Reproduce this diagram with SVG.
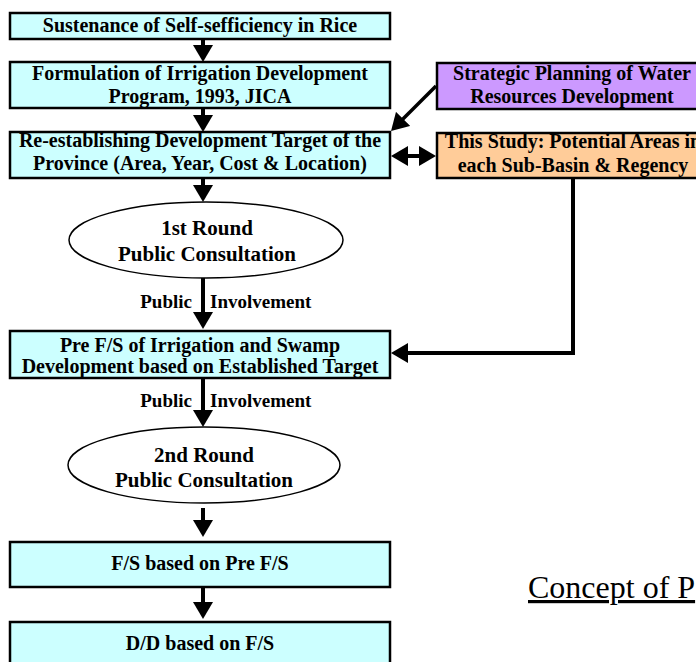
<svg xmlns="http://www.w3.org/2000/svg" width="696" height="662" viewBox="0 0 696 662">
<style>
.box{fill:#CCFFFF;stroke:#000;stroke-width:2.5}
.purple{fill:#CC99FF;stroke:#000;stroke-width:2.5}
.orange{fill:#FFCC99;stroke:#000;stroke-width:2.5}
.ell{fill:#FFFFFF;stroke:#000;stroke-width:1.5}
.t{font-family:"Liberation Serif","Times New Roman",serif;font-weight:bold;font-size:20px;fill:#000;text-anchor:middle}
.te{font-family:"Liberation Serif","Times New Roman",serif;font-weight:bold;font-size:21px;fill:#000;text-anchor:middle}
.lbl{font-family:"Liberation Serif","Times New Roman",serif;font-weight:bold;font-size:19px;fill:#000}
.cap{font-family:"Liberation Serif","Times New Roman",serif;font-size:32px;fill:#000}
.c{fill:none;stroke:#000;stroke-width:4}
</style>
<defs>
<marker id="ah" markerUnits="userSpaceOnUse" markerWidth="18" markerHeight="20" refX="9" refY="10" orient="auto-start-reverse">
<path d="M0,0 L17,10 L0,20 Z" fill="#000"/>
</marker>
</defs>
<rect width="696" height="662" fill="#FFFFFF"/>
<g id="n1"><rect class="box" x="10" y="13" width="380" height="26"/><text class="t" x="200" y="32">Sustenance of Self-sefficiency in Rice</text></g>
<g id="n2"><rect class="box" x="10" y="62" width="380" height="46"/><text class="t" x="200" y="80">Formulation of Irrigation Development</text><text class="t" x="200" y="103">Program, 1993, JICA</text></g>
<g id="n3"><rect class="box" x="10" y="132" width="380" height="46"/><text class="t" x="200" y="147">Re-establishing Development Target of the</text><text class="t" x="200" y="170">Province (Area, Year, Cost &amp; Location)</text></g>
<g id="n4"><rect class="purple" x="437" y="63" width="272" height="46"/><text class="t" x="572" y="80">Strategic Planning of Water</text><text class="t" x="572" y="103">Resources Development</text></g>
<g id="n5"><rect class="orange" x="437" y="133" width="272" height="45"/><text class="t" x="573" y="148">This Study: Potential Areas in</text><text class="t" x="573" y="172">each Sub-Basin &amp; Regency</text></g>
<g id="n6"><ellipse class="ell" cx="206" cy="240" rx="137" ry="38"/><text class="te" x="207" y="235">1st Round</text><text class="te" x="207" y="261">Public Consultation</text></g>
<g id="n7"><rect class="box" x="10" y="331" width="380" height="47"/><text class="t" x="200" y="352">Pre F/S of Irrigation and Swamp</text><text class="t" x="200" y="373">Development based on Established Target</text></g>
<g id="n8"><ellipse class="ell" cx="204" cy="465" rx="136" ry="38"/><text class="te" x="204" y="462">2nd Round</text><text class="te" x="204" y="487">Public Consultation</text></g>
<g id="n9"><rect class="box" x="10" y="542" width="380" height="45"/><text class="t" x="200" y="570">F/S based on Pre F/S</text></g>
<g id="n10"><rect class="box" x="10" y="622" width="380" height="50"/><text class="t" x="200" y="650">D/D based on F/S</text></g>
<g id="connectors">
<line class="c" x1="203" y1="39" x2="203" y2="54" marker-end="url(#ah)"/>
<line class="c" x1="203" y1="108" x2="203" y2="124" marker-end="url(#ah)"/>
<line class="c" x1="203" y1="178" x2="203" y2="194" marker-end="url(#ah)"/>
<line class="c" x1="203" y1="278" x2="203" y2="321" marker-end="url(#ah)"/>
<line class="c" x1="203" y1="378" x2="203" y2="419" marker-end="url(#ah)"/>
<line class="c" x1="203" y1="508" x2="203" y2="529" marker-end="url(#ah)"/>
<line class="c" x1="203" y1="587" x2="203" y2="611" marker-end="url(#ah)"/>
<polyline class="c" points="573,178 573,353 399,353" marker-end="url(#ah)"/>
<line class="c" style="stroke-width:3.5" x1="436" y1="86" x2="396.7" y2="125.3" marker-end="url(#ah)"/>
<line class="c" x1="399" y1="156" x2="428" y2="156" marker-start="url(#ah)" marker-end="url(#ah)"/>
</g>
<text class="lbl" x="192" y="308" text-anchor="end">Public</text>
<text class="lbl" x="210" y="308">Involvement</text>
<text class="lbl" x="192" y="407" text-anchor="end">Public</text>
<text class="lbl" x="210" y="407">Involvement</text>
<text class="cap" x="528" y="598" text-decoration="underline">Concept of P</text>
</svg>
